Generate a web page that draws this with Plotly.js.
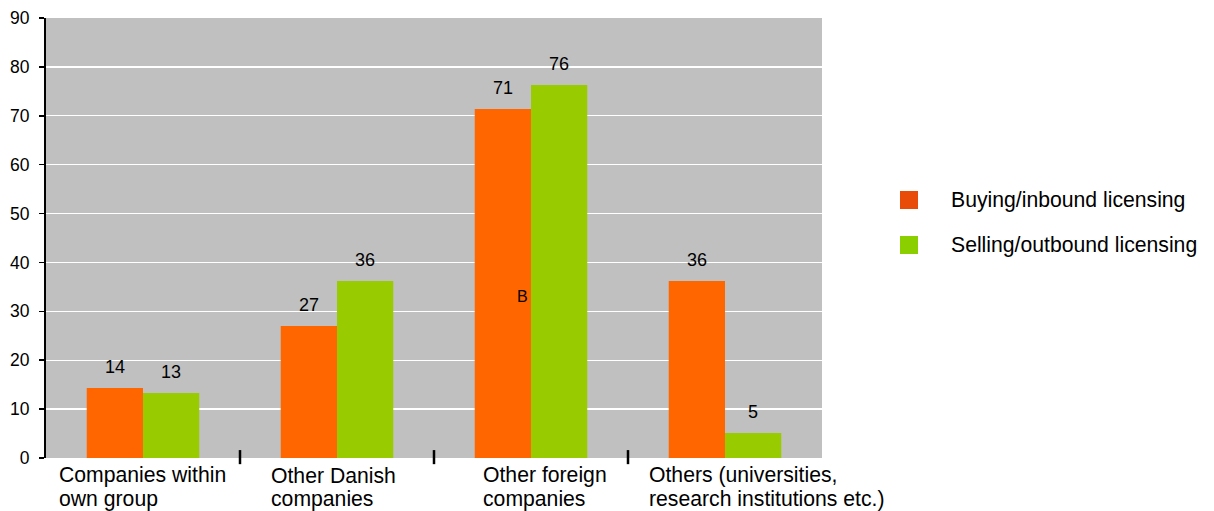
<!DOCTYPE html>
<html>
<head>
<meta charset="utf-8">
<script src="https://cdn.plot.ly/plotly-3.0.1.min.js"></script>
<style>html,body{margin:0;padding:0;background:#fff;}#chart{width:1214px;height:511px;}</style>
</head>
<body>
<div id="chart"></div>
<script>
const categories = ["Companies within own group", "Other Danish companies", "Other foreign companies", "Others (universities, research institutions etc.)"];
const categoryLabelLines = [["Companies within", "own group"], ["Other Danish", "companies"], ["Other foreign", "companies"], ["Others (universities,", "research institutions etc.)"]];
const buying = [14.3, 27.0, 71.4, 36.2];
const selling = [13.3, 36.2, 76.3, 5.1];
const seriesNames = ["Buying/inbound licensing", "Selling/outbound licensing"];
const yTicks = [0, 10, 20, 30, 40, 50, 60, 70, 80, 90];

const FONT = "Liberation Sans, Arial, sans-serif";
const ORANGE = "#ff6600";
const GREEN = "#99cc00";
const LEG_ORANGE = "#e84c08";
const LEG_GREEN = "#8ccf00";

const traces = [
  {type: "bar", x: categories, y: buying, name: seriesNames[0], marker: {color: ORANGE, line: {width: 0}}, hoverinfo: "none", showlegend: false},
  {type: "bar", x: categories, y: selling, name: seriesNames[1], marker: {color: GREEN, line: {width: 0}}, hoverinfo: "none", showlegend: false}
];

const annotations = [];
const shapes = [];
const halfBar = 0.145;
[buying, selling].forEach((vals, s) => {
  vals.forEach((v, i) => {
    annotations.push({x: i + (s === 0 ? -halfBar : halfBar), y: v, xref: "x", yref: "y", text: String(Math.round(v)),
      showarrow: false, yanchor: "bottom", yshift: 9, font: {family: FONT, size: 18, color: "#000"}});
  });
});
// stray "B" label inside the bar
annotations.push({x: 2, y: 33, xref: "x", yref: "y", text: "B", showarrow: false, xshift: -9,
  font: {family: FONT, size: 16, color: "#000"}});

// category labels, left-aligned lines
const labelLeftPx = [57, 269, 481, 647];
categoryLabelLines.forEach((lines, i) => {
  lines.forEach((t, j) => {
    annotations.push({x: (labelLeftPx[i] - 46) / 776, y: 0, xref: "paper", yref: "paper", text: t, showarrow: false,
      xanchor: "left", yanchor: "middle", yshift: -17 - 24 * j, font: {family: FONT, size: 21.2, color: "#000"}});
  });
});

// category separator ticks
[0.5, 1.5, 2.5].forEach(p => shapes.push({type: "line", xref: "x", yref: "paper", x0: p, x1: p,
  y0: -0.014, y1: 0.018, line: {color: "#000", width: 2.5}}));

// legend
const legColors = [LEG_ORANGE, LEG_GREEN];
const legCenterPx = [200, 245];
seriesNames.forEach((n, k) => {
  const cy = legCenterPx[k];
  shapes.push({type: "rect", xref: "paper", yref: "paper", x0: (900 - 46) / 776, x1: (918 - 46) / 776,
    y0: (458 - (cy + 9)) / 440, y1: (458 - (cy - 9)) / 440, fillcolor: legColors[k], line: {width: 0}});
  annotations.push({x: (949 - 46) / 776, y: (458 - cy) / 440, xref: "paper", yref: "paper", text: n, showarrow: false,
    xanchor: "left", yanchor: "middle", font: {family: FONT, size: 21.2, color: "#000"}});
});

const layout = {
  width: 1214, height: 511,
  margin: {l: 46, r: 392, t: 18, b: 53},
  paper_bgcolor: "#fff", plot_bgcolor: "#c0c0c0",
  font: {family: FONT, size: 17.5, color: "#000"},
  barmode: "group", bargap: 0.42, bargroupgap: 0,
  showlegend: false,
  xaxis: {type: "category", showticklabels: false, ticks: "", showline: false, showgrid: false, zeroline: false, fixedrange: true},
  yaxis: {range: [0, 90], tickvals: yTicks, ticktext: yTicks.map(String), showline: true, linecolor: "#000", linewidth: 2,
    ticks: "outside", ticklen: 5, tickcolor: "#000", tickwidth: 1.5, gridcolor: "#ffffff", gridwidth: 1.3,
    ticklabelstandoff: 6,
    zeroline: false, tickfont: {family: FONT, size: 17.5, color: "#000"}, fixedrange: true},
  annotations: annotations,
  shapes: shapes
};

Plotly.newPlot("chart", traces, layout, {displayModeBar: false, staticPlot: true});
</script>
</body>
</html>
